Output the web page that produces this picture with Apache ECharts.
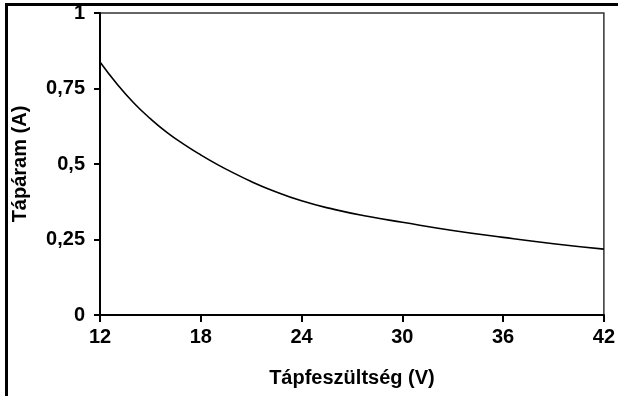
<!DOCTYPE html>
<html>
<head>
<meta charset="utf-8">
<script src="https://cdn.jsdelivr.net/npm/echarts@6/dist/echarts.min.js"></script>
<style>
html,body{margin:0;padding:0;background:#fff;}
#c{width:618px;height:396px;}
</style>
</head>
<body>
<div id="c"></div>
<script>
const voltages = [12, 13, 14, 15, 16, 17, 18, 19, 20, 21, 22, 24, 26, 28, 30, 33, 36, 39, 42];
const currents = [0.838, 0.766, 0.703, 0.650, 0.604, 0.565, 0.530, 0.498, 0.469, 0.442, 0.418, 0.378, 0.349, 0.326, 0.307, 0.280, 0.257, 0.236, 0.218];
const xTitle = 'Tápfeszültség (V)';
const yTitle = 'Tápáram (A)';

const chart = echarts.init(document.getElementById('c'), null, {renderer: 'canvas'});
const font = 'Liberation Sans, Arial, sans-serif';
chart.setOption({
  animation: false,
  backgroundColor: '#fff',
  grid: {left: 100, top: 13, right: 11, bottom: 81, show: true, borderColor: '#333', borderWidth: 1.5, backgroundColor: 'transparent'},
  xAxis: {
    type: 'value', min: 12, max: 42, interval: 6,
    name: xTitle, nameLocation: 'middle', nameGap: 53,
    nameTextStyle: {fontFamily: font, fontWeight: 'bold', fontSize: 20, color: '#000'},
    axisLine: {lineStyle: {color: '#000', width: 2}},
    axisTick: {length: 7, lineStyle: {color: '#000', width: 2}},
    axisLabel: {fontFamily: font, fontWeight: 'bold', fontSize: 20, color: '#000', margin: 12},
    splitLine: {show: false}
  },
  yAxis: {
    type: 'value', min: 0, max: 1, interval: 0.25,
    name: yTitle, nameLocation: 'middle', nameGap: 70,
    nameTextStyle: {fontFamily: font, fontWeight: 'bold', fontSize: 20, color: '#000'},
    axisLine: {lineStyle: {color: '#000', width: 2}},
    axisTick: {length: 6, lineStyle: {color: '#000', width: 2}},
    axisLabel: {fontFamily: font, fontWeight: 'bold', fontSize: 20, color: '#000', margin: 15,
      formatter: v => String(v).replace('.', ',')},
    splitLine: {show: false}
  },
  series: [{
    type: 'line', smooth: true, symbol: 'none',
    lineStyle: {color: '#000', width: 1.6},
    data: voltages.map((v, i) => [v, currents[i]])
  }],
  graphic: [
    {type: 'line', shape: {x1: 6.5, y1: 3, x2: 6.5, y2: 396}, style: {stroke: '#000', lineWidth: 3}},
    {type: 'line', shape: {x1: 5, y1: 4.5, x2: 618, y2: 4.5}, style: {stroke: '#000', lineWidth: 3}}
  ]
});
</script>
</body>
</html>
